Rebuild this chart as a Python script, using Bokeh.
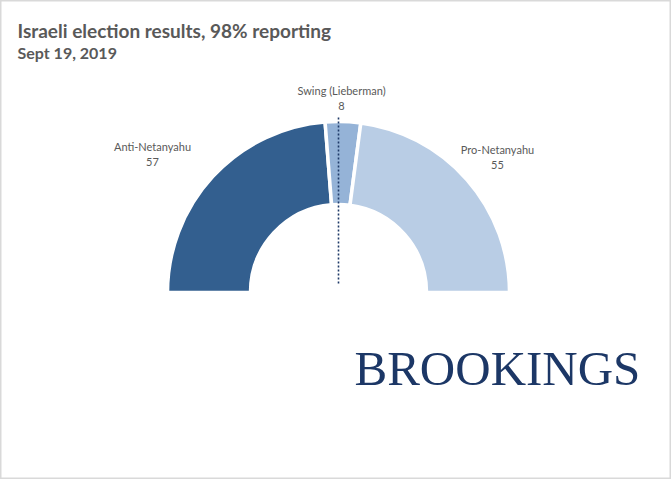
import numpy as np
from bokeh.plotting import figure
from bokeh.models import Range1d
from bokeh.core.properties import value
from bokeh.embed import file_html
from bokeh.resources import INLINE

# ---- data ----
blocs = ["Anti-Netanyahu", "Swing (Lieberman)", "Pro-Netanyahu"]
seats = [57, 8, 55]
colors = ["#335F8F", "#95B3D7", "#B9CDE5"]
title = "Israeli election results, 98% reporting"
subtitle = "Sept 19, 2019"
brand = "BROOKINGS"

W, H = 671, 479
p = figure(width=W, height=H, output_backend="svg", toolbar_location=None,
           x_range=Range1d(0, W), y_range=Range1d(0, H), min_border=0)
p.axis.visible = False
p.grid.visible = False
p.outline_line_color = "#D9D9D9"
p.outline_line_width = 2
p.background_fill_color = "white"
p.border_fill_color = "white"

def Y(py):
    return H - py

cx, cy = 338, Y(292)
r_in, r_out = 88, 171
total = sum(seats)
cum = np.concatenate([[0], np.cumsum(seats)])
starts = [np.pi - cum[i + 1] * np.pi / total for i in range(len(seats))]
ends = [np.pi - cum[i] * np.pi / total for i in range(len(seats))]

p.annular_wedge(x=cx, y=cy, inner_radius=r_in, outer_radius=r_out,
                start_angle=starts, end_angle=ends, fill_color=colors,
                line_color="white", line_width=3.5)

# majority line (half of seats)
half_ang = np.pi - (total / 2) * np.pi / total
mx = cx + r_out * np.cos(half_ang)
p.segment(x0=[mx], y0=[cy + r_out + 4], x1=[mx], y1=[cy + 9],
          line_color="#1F3A68", line_width=1.6, line_dash="2 2")

font = value("Lato")
lab_col = "#595959"
# labels
lab_x = [152, 341, 497]
lab_y = [146, 90, 149]
p.text(x=lab_x, y=[Y(v) for v in lab_y], text=blocs, text_font=font,
       text_font_size="11px", text_color=lab_col, text_align="center",
       text_baseline="middle")
p.text(x=lab_x, y=[Y(v + 15) for v in lab_y], text=[str(s) for s in seats],
       text_font=font, text_font_size="11px", text_color=lab_col,
       text_align="center", text_baseline="middle")

# titles
p.text(x=[17], y=[Y(30)], text=[title], text_font=font, text_font_size="19px",
       text_font_style="bold", text_color=lab_col, text_baseline="alphabetic")
p.text(x=[17], y=[Y(52)], text=[subtitle], text_font=font, text_font_size="16px",
       text_font_style="bold", text_color=lab_col, text_baseline="alphabetic")

# brand
p.text(x=[354], y=[Y(368)], text=[brand], text_font=value("Liberation Serif"),
       text_font_size="49px", text_color="#1C3766", text_baseline="alphabetic")

open("out.html", "w").write(file_html(p, INLINE))
